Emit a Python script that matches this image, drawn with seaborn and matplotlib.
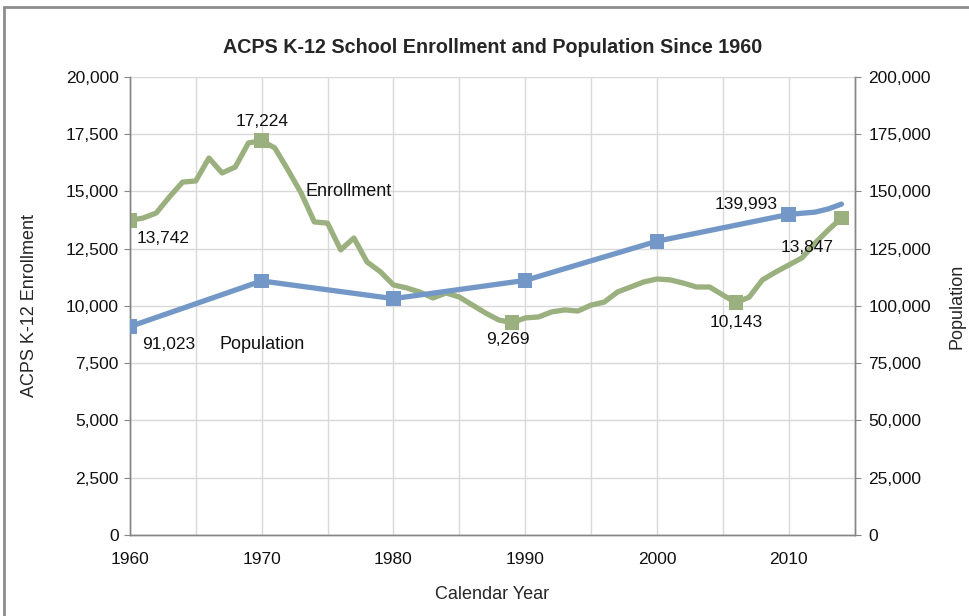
import numpy as np
import pandas as pd
import matplotlib.pyplot as plt
import matplotlib.ticker as mticker
from matplotlib.patches import Rectangle
import seaborn as sns

# ---- data ----
enroll_years = list(range(1960, 2015))
enrollment = [13742, 13840, 14060, 14760, 15410, 15460, 16460, 15810, 16070, 17120,
              17224, 16900, 15940, 14930, 13670, 13620, 12450, 12970, 11920, 11500,
              10920, 10790, 10610, 10350, 10570, 10390, 10040, 9690, 9390, 9269,
              9480, 9520, 9740, 9830, 9780, 10040, 10170, 10610, 10830, 11050,
              11180, 11140, 11000, 10830, 10830, 10480, 10143, 10390, 11140, 11480,
              11790, 12100, 12750, 13320, 13847]
pop_years = [1960, 1970, 1980, 1990, 2000, 2010, 2011, 2012, 2013, 2014]
population = [91023, 110938, 103217, 111183, 128283, 139993, 140500, 141000, 142400, 144500]

enroll_marked = [1960, 1970, 1989, 2006, 2014]
pop_marked = [1960, 1970, 1980, 1990, 2000, 2010]

GREEN = "#9bb07f"
BLUE = "#7398c7"

df_e = pd.DataFrame({"year": enroll_years, "enrollment": enrollment})
df_p = pd.DataFrame({"year": pop_years, "population": population})

sns.set_style("white")
plt.rcParams['font.family'] = ['Liberation Sans', 'DejaVu Sans']

fig = plt.figure(figsize=(9.69, 6.16), dpi=100)
ax = fig.add_axes([0.134, 0.1315, 0.748, 0.7435])
ax2 = ax.twinx()

# enrollment (left axis)
sns.lineplot(data=df_e, x="year", y="enrollment", ax=ax, color=GREEN, lw=3.8, zorder=3)
sns.scatterplot(data=df_e[df_e.year.isin(enroll_marked)], x="year", y="enrollment", ax=ax,
                color=GREEN, marker="s", s=110, edgecolor="none", zorder=4)

# population (right axis)
sns.lineplot(data=df_p, x="year", y="population", ax=ax2, color=BLUE, lw=3.8, zorder=3)
sns.scatterplot(data=df_p[df_p.year.isin(pop_marked)], x="year", y="population", ax=ax2,
                color=BLUE, marker="s", s=110, edgecolor="none", zorder=4)

ax.set_xlim(1960, 2015)
ax.set_ylim(0, 20000)
ax2.set_ylim(0, 200000)

ax.xaxis.set_major_locator(mticker.MultipleLocator(5))
ax.xaxis.set_major_formatter(mticker.FuncFormatter(lambda v, p: f"{int(v)}" if int(v) % 10 == 0 and v <= 2010 else ""))
ax.yaxis.set_major_locator(mticker.MultipleLocator(2500))
ax.yaxis.set_major_formatter(mticker.StrMethodFormatter("{x:,.0f}"))
ax2.yaxis.set_major_locator(mticker.MultipleLocator(25000))
ax2.yaxis.set_major_formatter(mticker.StrMethodFormatter("{x:,.0f}"))

ax.grid(True, color="#d9d9d9", lw=1)
ax.set_axisbelow(True)
for a in (ax, ax2):
    for side in ("left", "right", "bottom"):
        a.spines[side].set_color("#868686")
        a.spines[side].set_linewidth(1)
    a.spines["top"].set_visible(False)
    a.tick_params(direction="out", length=4, color="#868686", labelsize=12.5, labelcolor="#111111")
ax.tick_params(axis="y", pad=4)
ax.tick_params(axis="x", pad=8)
ax2.tick_params(axis="y", pad=6)

ax.set_xlabel("Calendar Year", fontsize=13, labelpad=14)
ax.set_ylabel("ACPS K-12 Enrollment", fontsize=13)
ax.yaxis.set_label_coords(-0.138, 0.5)
ax.yaxis.label.set_va("center")
ax2.set_ylabel("Population", fontsize=13)
ax2.yaxis.set_label_coords(1.141, 0.5)
ax2.yaxis.label.set_va("center")
ax.set_title("ACPS K-12 School Enrollment and Population Since 1960",
             fontsize=14.2, fontweight="bold", pad=17.5)

# data labels
def lab(a, x, y, text, dx, dy, ha="center"):
    a.annotate(text, (x, y), xytext=(dx, dy), textcoords="offset points",
               ha=ha, va="center", fontsize=12.5, color="#111111")

e = dict(zip(enroll_years, enrollment))
p = dict(zip(pop_years, population))
lab(ax, 1970, e[1970], "17,224", 0, 14)
lab(ax, 1960, e[1960], "13,742", 5, -13, ha="left")
lab(ax, 1989, e[1989], "9,269", -3, -12)
lab(ax, 2006, e[2006], "10,143", 0, -14)
lab(ax, 2014, e[2014], "13,847", -25, -21)
lab(ax2, 1960, p[1960], "91,023", 9, -13, ha="left")
lab(ax2, 2010, p[2010], "139,993", -31, 7)

ax.text(1973.3, 15000, "Enrollment", fontsize=13, va="center", ha="left", color="#111111")
ax.text(1966.8, 8300, "Population", fontsize=13, va="center", ha="left", color="#111111")

# outer chart border
fig.patches.append(Rectangle((0.004, -0.02), 1.1, 1.0086, transform=fig.transFigure,
                             fill=False, edgecolor="#8c8c8c", lw=2))

fig.savefig("out.png", dpi=100)
